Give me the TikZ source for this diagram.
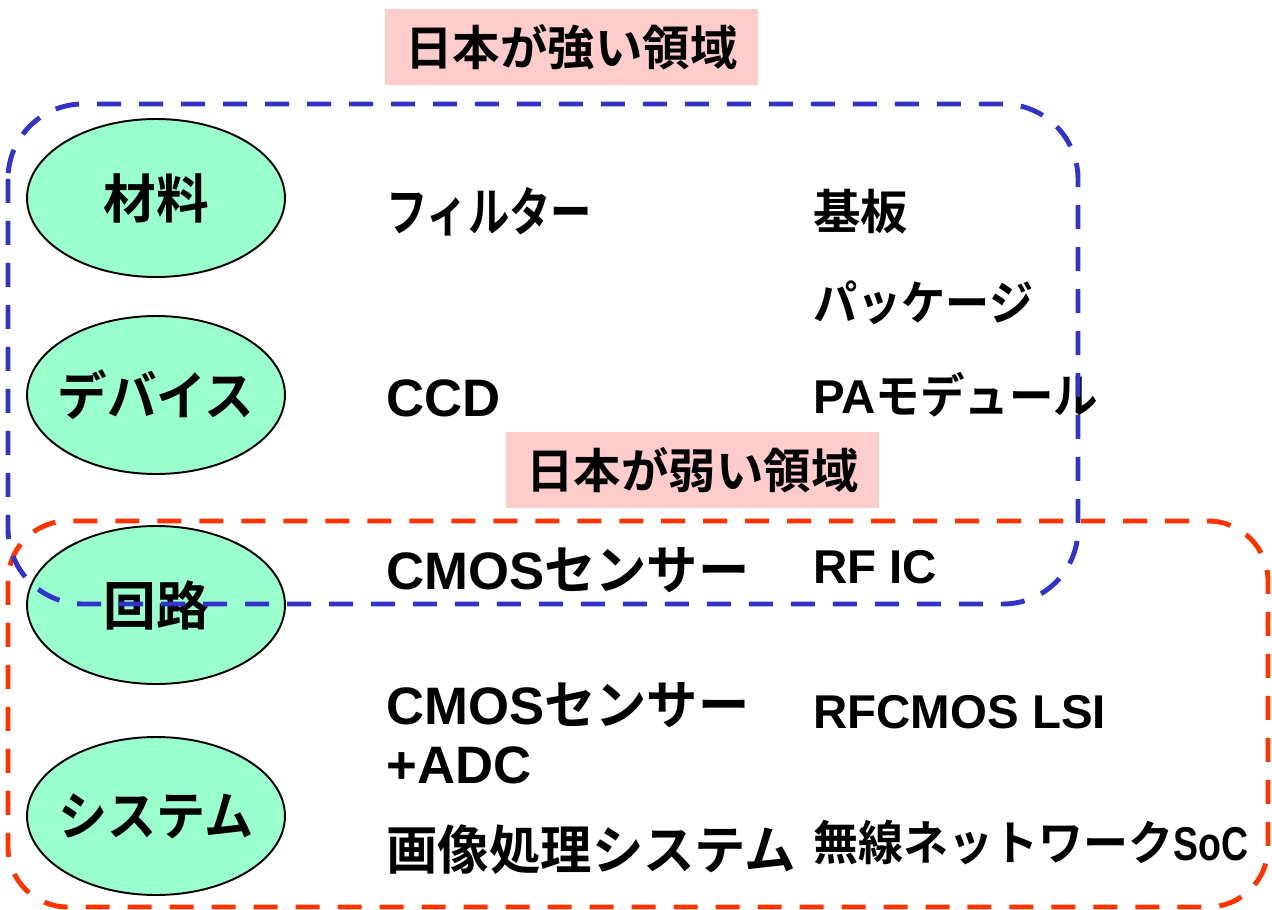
\documentclass[tikz,border=0pt]{standalone}
\usepackage{fontspec}
\usepackage{graphicx}
\setmainfont{Liberation Sans}
\newfontfamily\jpfont{Noto Sans CJK JP}[BoldFont={* Bold}]
\newcommand{\jp}[1]{{\jpfont #1}}
\newcommand{\jpw}[2]{\resizebox{#1}{\height}{\jpfont #2}}
\usetikzlibrary{shapes.geometric}
\definecolor{ellfill}{HTML}{99FFCC}
\definecolor{labfill}{HTML}{FFCCCC}
\definecolor{bluebox}{HTML}{3333CC}
\definecolor{redbox}{HTML}{FF3300}
\tikzset{
  ellnode/.style={ellipse, draw=black, line width=1.1pt, fill=ellfill, minimum width=5.16cm, minimum height=3.16cm, inner sep=0pt, font=\fontsize{30pt}{34pt}\selectfont\bfseries\jpfont},
  labnode/.style={rectangle, fill=labfill, minimum width=7.46cm, minimum height=1.52cm, inner sep=0pt, font=\fontsize{27pt}{31pt}\selectfont\bfseries\jpfont},
  txtL/.style={anchor=west, inner sep=0pt, font=\fontsize{30pt}{35pt}\selectfont\bfseries},
  txtR/.style={anchor=west, inner sep=0pt, font=\fontsize{27pt}{31pt}\selectfont\bfseries},
  dashbox/.style={line width=2.8pt, dash pattern=on 0.48cm off 0.36cm},
}
\begin{document}
\begin{tikzpicture}[x=0.02cm,y=-0.02cm]
\useasboundingbox (0,0) rectangle (1272,910);
% ellipses
\node[ellnode] (mat) at (156,198) {\makebox[0pt]{材料}};
\node[ellnode] (dev) at (156,395) {\makebox[0pt]{\resizebox{3.94cm}{\height}{デバイス}}};
\node[ellnode] (cir) at (156,605) {\makebox[0pt]{回路}};
\node[ellnode] (sys) at (156,816) {\makebox[0pt]{\resizebox{3.9cm}{\height}{システム}}};
% labels
\node[labnode] (strong) at (571.5,47) {日本が強い領域};
\node[labnode] (weak) at (692.5,470) {日本が弱い領域};
% left column texts
\node[txtL] (t1) at (386,212) {\jpw{4.12cm}{フィルター}};
\node[txtL] (t4) at (386,398) {CCD};
\node[txtL] (t6) at (386,570) {CMOS\jpw{4.1cm}{センサー}};
\node[txtL] (t8) at (386,705) {CMOS\jpw{4.1cm}{センサー}};
\node[txtL] (t9) at (386,765) {+ADC};
\node[txtL] (t11) at (386,850) {\jpw{8.2cm}{画像処理システム}};
% right column texts
\node[txtR] (t2) at (813,212) {\jp{基板}};
\node[txtR] (t3) at (813,303) {\jpw{4.4cm}{パッケージ}};
\node[txtR] (t5) at (813,395) {PA\jpw{4.45cm}{モデュール}};
\node[txtR] (t7) at (813,567) {RF IC};
\node[txtR] (t10) at (813,712) {RFCMOS LSI};
\node[txtR] (t12) at (813,843) {\jpw{7.2cm}{無線ネットワーク}\resizebox{1.5cm}{\height}{SoC}};
% dashed regions
\draw[dashbox, draw=redbox, rounded corners=1.2cm] (8,521) rectangle (1268,907);
\draw[dashbox, draw=bluebox, rounded corners=1.5cm] (8,104) rectangle (1078,604);
\end{tikzpicture}
\end{document}
